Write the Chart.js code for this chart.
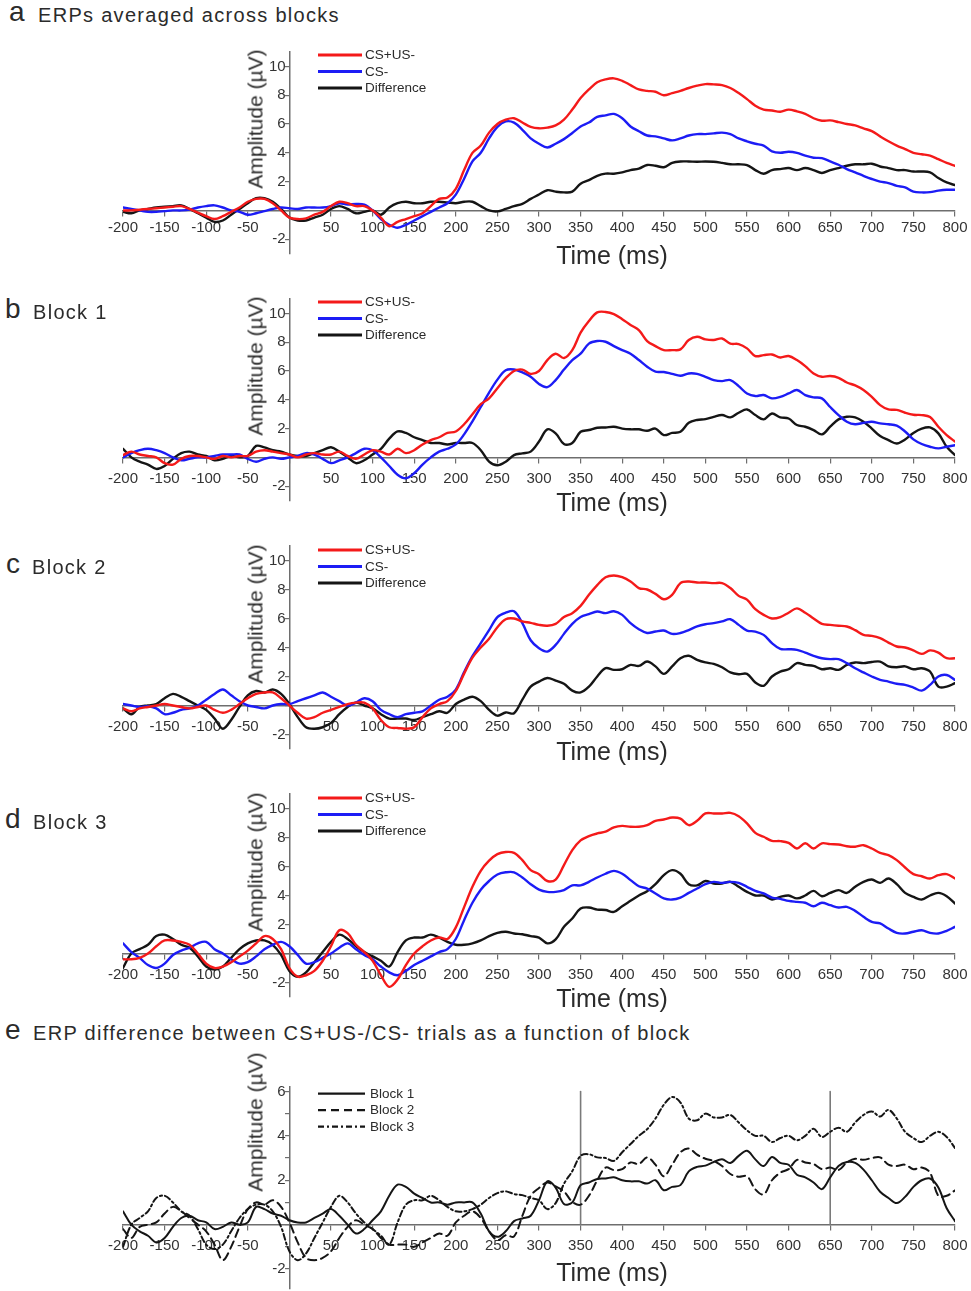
<!DOCTYPE html>
<html>
<head>
<meta charset="utf-8">
<script src="https://cdn.jsdelivr.net/npm/chart.js@4.4.1/dist/chart.umd.min.js"></script>
<style>
  html, body { margin: 0; padding: 0; background: #fff; }
  body { width: 971px; height: 1291px; position: relative; overflow: hidden;
         font-family: "Liberation Sans", Arial, sans-serif; color: #2b2b2b; }
  canvas { position: absolute; }
  .lt { position: absolute; font-size: 28px; line-height: 1; }
  .ttl { position: absolute; font-size: 20px; line-height: 1; letter-spacing: 1.3px; white-space: nowrap; }
  .ylab { position: absolute; font-size: 21px; line-height: 1; white-space: nowrap;
          transform: translate(-50%, -50%) rotate(-90deg); }
  .xlab { position: absolute; font-size: 25px; line-height: 1; white-space: nowrap;
          transform: translate(-50%, -50%); }
</style>
</head>
<body>
<script>
// time points (ms), one sample every 10 ms
const times = [
  -200, -190, -180, -170, -160, -150, -140, -130, -120, -110,
  -100, -90, -80, -70, -60, -50, -40, -30, -20, -10,
  0, 10, 20, 30, 40, 50, 60, 70, 80, 90,
  100, 110, 120, 130, 140, 150, 160, 170, 180, 190,
  200, 210, 220, 230, 240, 250, 260, 270, 280, 290,
  300, 310, 320, 330, 340, 350, 360, 370, 380, 390,
  400, 410, 420, 430, 440, 450, 460, 470, 480, 490,
  500, 510, 520, 530, 540, 550, 560, 570, 580, 590,
  600, 610, 620, 630, 640, 650, 660, 670, 680, 690,
  700, 710, 720, 730, 740, 750, 760, 770, 780, 790,
  800
];

// a: averaged across blocks
const aCSplus = [
  0.0, 0.0, 0.05, 0.1, 0.15, 0.2, 0.25, 0.3, 0.1, -0.15,
  -0.4, -0.6, -0.4, -0.1, 0.2, 0.6, 0.8, 0.8, 0.5, 0.0,
  -0.5, -0.6, -0.55, -0.3, -0.1, 0.3, 0.6, 0.5, 0.3, 0.3,
  0.0, -0.5, -1.1, -0.8, -0.6, -0.4, -0.2, 0.3, 0.8, 0.9,
  1.5, 2.8, 4.0, 4.5, 5.4, 6.0, 6.3, 6.4, 6.1, 5.8,
  5.7, 5.75, 5.9, 6.3, 7.0, 7.8, 8.4, 8.9, 9.1, 9.17,
  9.0, 8.7, 8.4, 8.3, 8.24, 8.0, 8.15, 8.3, 8.5, 8.66,
  8.77, 8.75, 8.7, 8.5, 8.15, 7.73, 7.27, 7.0, 6.94, 6.85,
  7.0, 6.88, 6.7, 6.4, 6.23, 6.25, 6.13, 6.0, 5.9, 5.7,
  5.5, 5.14, 4.8, 4.5, 4.26, 4.0, 3.9, 3.8, 3.56, 3.3,
  3.1
];
const aCSminus = [
  0.2, 0.1, 0.0, -0.1, -0.1, -0.05, 0.0, 0.0, 0.05, 0.2,
  0.3, 0.35, 0.2, 0.0, -0.1, -0.3, -0.2, -0.05, 0.1, 0.2,
  0.15, 0.1, 0.2, 0.2, 0.2, 0.3, 0.5, 0.4, 0.45, 0.4,
  0.0, -0.6, -1.0, -1.2, -1.0, -0.7, -0.4, -0.1, 0.2, 0.5,
  1.1, 2.2, 3.4, 4.0, 5.0, 5.8, 6.18, 6.1, 5.6, 5.0,
  4.63, 4.37, 4.63, 4.95, 5.37, 5.83, 6.1, 6.5, 6.6, 6.7,
  6.4, 5.83, 5.5, 5.2, 5.14, 5.0, 4.86, 5.0, 5.2, 5.3,
  5.3, 5.35, 5.4, 5.3, 5.0, 4.8, 4.63, 4.5, 4.1, 4.0,
  4.07, 4.0, 3.8, 3.66, 3.63, 3.4, 3.17, 2.87, 2.64, 2.4,
  2.18, 2.0, 1.9, 1.7, 1.6, 1.3, 1.25, 1.27, 1.37, 1.43,
  1.43
];
const aDiff = [
  -0.1, -0.2, 0.0, 0.1, 0.2, 0.25, 0.3, 0.35, 0.1, -0.2,
  -0.5, -0.8, -0.7, -0.3, 0.1, 0.5, 0.85, 0.85, 0.6, 0.1,
  -0.5, -0.7, -0.7, -0.5, -0.3, 0.1, 0.3, 0.1, -0.2, -0.1,
  0.0, -0.3, 0.2, 0.5, 0.6, 0.5, 0.5, 0.6, 0.6, 0.55,
  0.5, 0.6, 0.6, 0.3, 0.0, -0.07, 0.1, 0.3, 0.46, 0.8,
  1.1, 1.4, 1.3, 1.25, 1.3, 1.85, 2.1, 2.4, 2.55, 2.55,
  2.64, 2.8, 2.9, 3.15, 3.1, 3.0, 3.3, 3.4, 3.4, 3.38,
  3.4, 3.38, 3.3, 3.2, 3.2, 3.15, 2.8, 2.55, 2.8, 2.87,
  2.94, 2.8, 2.94, 2.8, 2.6, 2.8, 2.94, 3.1, 3.2, 3.2,
  3.24, 3.05, 2.94, 2.8, 2.8, 2.7, 2.7, 2.64, 2.25, 1.94,
  1.76
];

// b: block 1
const bCSplus = [
  0.16, 0.4, 0.2, 0.1, 0.0, -0.4, -0.5, -0.1, 0.1, 0.1,
  0.0, -0.1, 0.1, 0.0, 0.1, 0.1, 0.4, 0.5, 0.4, 0.3,
  0.2, 0.0, 0.2, 0.3, 0.2, 0.2, 0.4, 0.1, -0.1, 0.2,
  0.5, 0.4, 0.2, 0.6, 0.3, 0.5, 0.9, 1.2, 1.4, 1.7,
  1.8, 2.3, 3.0, 3.7, 4.1, 4.8, 5.5, 6.0, 6.1, 5.8,
  6.0, 6.76, 7.2, 6.9, 7.45, 8.66, 9.47, 10.07, 10.1, 9.95,
  9.6, 9.2, 8.84, 8.08, 7.73, 7.45, 7.45, 7.5, 8.15, 8.38,
  8.2, 8.15, 8.26, 7.9, 7.87, 7.57, 7.04, 7.1, 7.15, 6.94,
  7.04, 6.76, 6.34, 5.83, 5.6, 5.65, 5.53, 5.2, 5.0, 4.68,
  4.2, 3.63, 3.33, 3.3, 3.1, 2.96, 2.94, 2.8, 2.13, 1.55,
  1.1
];
const bCSminus = [
  0.0, 0.3, 0.5, 0.6, 0.5, 0.3, 0.0, -0.2, -0.1, 0.0,
  0.0, 0.1, 0.2, 0.2, 0.2, -0.1, -0.3, -0.1, 0.0, -0.1,
  0.0, 0.1, 0.3, 0.2, -0.1, -0.4, -0.2, 0.0, 0.3, 0.6,
  0.5, 0.0, -0.6, -1.2, -1.45, -1.1, -0.5, 0.0, 0.4, 0.6,
  0.9, 1.6, 2.5, 3.5, 4.5, 5.4, 6.05, 6.1, 5.9, 5.6,
  5.1, 4.88, 5.37, 6.1, 6.76, 7.2, 7.9, 8.08, 8.03, 7.73,
  7.45, 7.2, 6.76, 6.3, 5.95, 5.93, 5.8, 5.67, 5.83, 5.8,
  5.6, 5.37, 5.3, 5.37, 4.95, 4.44, 4.26, 4.33, 4.1, 4.2,
  4.44, 4.68, 4.33, 4.17, 4.1, 3.5, 2.94, 2.48, 2.3, 2.4,
  2.48, 2.36, 2.3, 2.2, 1.8, 1.25, 0.93, 0.74, 0.63, 0.74,
  0.85
];
const bDiff = [
  0.6, 0.0, -0.3, -0.5, -0.8, -0.6, -0.1, 0.3, 0.4, 0.2,
  0.1, -0.2, -0.1, 0.1, 0.0, 0.1, 0.8, 0.7, 0.5, 0.4,
  0.2, 0.1, 0.1, 0.3, 0.5, 0.7, 0.4, 0.0, -0.4, -0.2,
  0.2, 0.6, 1.3, 1.8, 1.7, 1.4, 1.2, 1.0, 1.0, 0.9,
  1.0, 1.0, 1.0, 0.5, -0.3, -0.55, -0.3, 0.16, 0.28, 0.4,
  1.1, 1.95, 1.67, 0.93, 1.0, 1.78, 1.9, 2.06, 2.08, 2.13,
  2.0, 1.95, 1.95, 1.85, 2.0, 1.55, 1.7, 1.78, 2.4, 2.6,
  2.66, 2.82, 2.94, 2.78, 3.1, 3.33, 2.94, 2.64, 3.05, 2.78,
  2.7, 2.25, 2.13, 1.9, 1.6, 2.13, 2.64, 2.82, 2.78, 2.48,
  2.0, 1.48, 1.2, 0.97, 1.25, 1.7, 2.0, 2.08, 1.67, 0.74,
  0.16
];

// c: block 2
const cCSplus = [
  -0.2, -0.4, -0.2, -0.1, 0.0, 0.1, 0.0, -0.1, -0.2, -0.1,
  0.0, -0.3, -0.5, -0.3, 0.1, 0.5, 0.8, 0.9, 0.9, 0.5,
  0.0, -0.5, -0.9, -0.8, -0.5, -0.3, -0.1, 0.1, 0.2, 0.2,
  -0.2, -1.0, -1.5, -1.55, -1.6, -1.5, -0.8, -0.2, 0.1, 0.3,
  1.0, 2.2, 3.3, 4.0, 4.6, 5.4, 5.95, 6.0, 5.8, 5.7,
  5.56, 5.5, 5.63, 6.1, 6.37, 6.87, 7.63, 8.3, 8.85, 8.97,
  8.85, 8.55, 8.1, 8.0, 7.7, 7.33, 7.63, 8.44, 8.55, 8.48,
  8.48, 8.44, 8.44, 8.1, 7.56, 7.3, 6.64, 6.25, 6.0, 6.1,
  6.4, 6.7, 6.4, 6.0, 5.63, 5.56, 5.5, 5.45, 5.2, 4.87,
  4.8, 4.64, 4.34, 4.07, 4.0, 3.8, 3.56, 3.8, 3.65, 3.26,
  3.26
];
const cCSminus = [
  0.1, 0.0, -0.1, -0.05, -0.2, -0.6, -0.5, -0.3, -0.2, 0.0,
  0.4, 0.8, 1.1, 0.7, 0.3, 0.0, -0.1, -0.2, 0.0, 0.1,
  0.1, 0.3, 0.5, 0.7, 0.9, 0.6, 0.3, 0.0, 0.2, 0.5,
  0.3, -0.3, -0.6, -0.8, -0.6, -0.5, -0.4, 0.0, 0.4, 0.6,
  1.1, 2.3, 3.4, 4.3, 5.2, 6.1, 6.4, 6.5, 5.68, 4.5,
  3.95, 3.72, 4.18, 4.94, 5.63, 6.1, 6.3, 6.48, 6.37, 6.5,
  6.25, 5.68, 5.26, 5.0, 5.1, 5.17, 4.94, 5.0, 5.2, 5.45,
  5.6, 5.68, 5.8, 5.95, 5.56, 5.17, 5.1, 4.87, 4.3, 3.9,
  3.88, 3.84, 3.65, 3.43, 3.26, 3.2, 3.2, 2.92, 2.57, 2.28,
  2.0, 1.77, 1.65, 1.5, 1.42, 1.24, 1.03, 1.42, 2.0, 2.1,
  1.77
];
const cDiff = [
  -0.2, -0.6, -0.1, 0.0, 0.1, 0.5, 0.8, 0.6, 0.3, 0.0,
  -0.3, -0.9, -1.6, -1.0, -0.1, 0.7, 1.0, 0.9, 1.1, 0.8,
  0.1, -0.8, -1.5, -1.6, -1.5, -1.2, -0.6, -0.1, 0.2, 0.0,
  -0.2, -0.6, -0.9, -0.9, -0.9, -1.0, -0.8, -0.6, -0.4, -0.5,
  0.1, 0.4, 0.6, 0.3, -0.3, -0.7, -0.48, -0.53, 0.4, 1.3,
  1.65, 1.9, 1.72, 1.5, 1.03, 0.9, 1.3, 2.0, 2.57, 2.46,
  2.5, 2.8, 2.73, 3.03, 2.7, 2.18, 2.7, 3.26, 3.43, 3.15,
  2.97, 2.87, 2.64, 2.28, 2.16, 2.18, 1.59, 1.36, 2.0, 2.34,
  2.5, 2.92, 2.8, 2.73, 2.5, 2.57, 2.46, 2.8, 2.97, 2.92,
  3.0, 3.03, 2.7, 2.64, 2.7, 2.5, 2.57, 2.34, 1.3, 1.3,
  1.54
];

// d: block 3
const dCSplus = [
  -0.4, -0.4, -0.3, 0.0, 0.5, 0.9, 0.9, 0.8, 0.6, 0.0,
  -0.7, -1.0, -0.9, -0.6, -0.2, 0.2, 0.7, 1.2, 1.0, 0.3,
  -1.0, -1.6, -1.5, -1.2, -0.5, 0.5, 1.6, 1.4, 0.6, 0.1,
  -0.5, -1.5, -2.3, -1.8, -0.8, 0.0, 0.5, 0.9, 1.1, 1.0,
  1.8, 3.2, 4.6, 5.7, 6.4, 6.85, 7.0, 6.94, 6.44, 5.75,
  5.47, 5.0, 5.1, 6.1, 7.13, 7.8, 8.1, 8.28, 8.4, 8.7,
  8.8, 8.74, 8.74, 8.85, 9.15, 9.24, 9.38, 9.3, 8.85, 9.15,
  9.66, 9.66, 9.66, 9.7, 9.47, 8.97, 8.32, 8.05, 7.77, 7.75,
  7.63, 7.24, 7.6, 7.24, 7.6, 7.54, 7.52, 7.4, 7.36, 7.47,
  7.24, 6.94, 6.78, 6.44, 5.93, 5.47, 5.33, 5.17, 5.4, 5.47,
  5.17
];
const dCSminus = [
  0.7, 0.1, -0.3, -0.8, -1.0, -0.7, -0.1, 0.2, 0.4, 0.7,
  0.8, 0.3, 0.0, -0.4, -0.7, -0.6, -0.2, 0.3, 0.6, 0.8,
  0.5, -0.1, -0.7, -0.6, -0.3, 0.0, 0.4, 0.7, 0.3, -0.1,
  -0.4, -0.9, -1.3, -1.5, -1.2, -0.8, -0.5, -0.2, 0.1, 0.3,
  1.0, 2.3, 3.5, 4.4, 5.0, 5.45, 5.6, 5.6, 5.24, 4.78,
  4.41, 4.25, 4.25, 4.37, 4.7, 4.7, 4.94, 5.24, 5.5, 5.7,
  5.5, 5.06, 4.64, 4.48, 4.14, 3.8, 3.72, 3.86, 4.18, 4.48,
  4.78, 4.94, 4.87, 4.94, 4.87, 4.6, 4.32, 4.14, 3.86, 3.77,
  3.63, 3.56, 3.5, 3.26, 3.5, 3.33, 3.17, 3.22, 2.94, 2.53,
  2.18, 2.07, 1.72, 1.42, 1.38, 1.5, 1.6, 1.42, 1.38, 1.56,
  1.84
];
const dDiff = [
  -1.0, 0.0, 0.3, 0.6, 1.2, 1.3, 1.0, 0.6, 0.4, -0.2,
  -0.9, -1.1, -0.9, -0.3, 0.3, 0.7, 0.9, 0.9, 0.6, -0.1,
  -1.2, -1.6, -1.3, -0.6, 0.1, 0.8, 1.3, 1.0, 0.5, 0.1,
  -0.2, -0.5, -0.9, 0.1, 0.9, 1.1, 1.1, 1.3, 1.1, 0.8,
  0.6, 0.6, 0.7, 0.9, 1.2, 1.42, 1.5, 1.38, 1.33, 1.2,
  1.1, 0.7, 0.97, 1.84, 2.41, 3.1, 3.17, 3.03, 3.0, 2.87,
  3.26, 3.63, 4.0, 4.3, 4.78, 5.4, 5.75, 5.5, 4.78, 4.7,
  5.0, 4.83, 4.83, 4.94, 4.6, 4.25, 4.0, 4.0, 3.72, 3.9,
  4.0, 3.8, 4.0, 4.32, 3.95, 4.18, 4.37, 4.18, 4.6, 4.94,
  5.1, 4.87, 5.17, 4.78, 4.18, 3.9, 3.72, 4.0, 4.18, 3.95,
  3.45
];

// e: the difference waves of the three blocks, plus the window markers
const blockNames = ['Block 1', 'Block 2', 'Block 3'];
const blockDiffs = [bDiff, cDiff, dDiff];
const markerTimes = [350, 650];
const markerTop = 6;

const condNames = ['CS+US-', 'CS-', 'Difference'];

// y tick positions (labels only on the even, non-zero ones)
const yTicksCond = [-2, -1, 0, 1, 2, 3, 4, 5, 6, 7, 8, 9, 10];
const yTicksBlock = [-2, -1, 0, 1, 2, 3, 4, 5, 6];

const RED = '#f41a1a', BLUE = '#1c1cf5', BLACK = '#151515';
const AXIS = '#6e6e6e';
const TICK_FONT = { family: '"Liberation Sans", Arial', size: 15 };

// draws the line key at a fixed spot inside the plot
const lineKey = {
  id: 'lineKey',
  afterDatasetsDraw(chart, args, o) {
    if (!o || !o.rows) return;
    const ctx = chart.ctx;
    const left = chart.chartArea.left;
    const zero = chart.scales.y.getPixelForValue(0);
    ctx.save();
    let k = 0;
    chart.data.datasets.forEach(ds => {
      if (!ds.label) return;
      const y = zero + o.top + k * o.rowH;
      ctx.beginPath();
      ctx.setLineDash(ds.borderDash || []);
      ctx.strokeStyle = ds.borderColor;
      ctx.lineWidth = o.lineW;
      ctx.moveTo(left + o.x0, y);
      ctx.lineTo(left + o.x1, y);
      ctx.stroke();
      ctx.setLineDash([]);
      ctx.fillStyle = '#2b2b2b';
      ctx.font = o.font;
      ctx.textBaseline = 'middle';
      ctx.fillText(ds.label, left + o.tx, y + 0.5);
      k++;
    });
    ctx.restore();
  }
};

const X_LEFT = 123, X_WIDTH = 832;
// side padding has to cover half an end label plus the tick padding
const PAD_L = 36, PAD_R = 36, PAD_T = 14, PAD_B = 14;

function addText(cls, text, left, top) {
  const d = document.createElement('div');
  d.className = cls;
  d.textContent = text;
  d.style.left = left + 'px';
  d.style.top = top + 'px';
  document.body.appendChild(d);
}

function makePanel(p) {
  const areaTop = p.zeroY - p.ymax * p.ppu;
  const areaH = (p.ymax - p.ymin) * p.ppu;
  const cv = document.createElement('canvas');
  const w = X_WIDTH + PAD_L + PAD_R;
  const h = Math.round(areaH + PAD_T + PAD_B);
  cv.width = w; cv.height = h;
  cv.style.left = (X_LEFT - PAD_L) + 'px';
  cv.style.top = (areaTop - PAD_T) + 'px';
  cv.style.width = w + 'px'; cv.style.height = h + 'px';
  document.body.appendChild(cv);

  new Chart(cv, {
    type: 'line',
    data: { labels: times, datasets: p.datasets },
    options: {
      responsive: false,
      animation: false,
      devicePixelRatio: 1,
      layout: { padding: { left: PAD_L, right: PAD_R, top: PAD_T, bottom: h - PAD_T - areaH } },
      elements: { point: { radius: 0 }, line: { tension: 0.35, borderCapStyle: 'round', borderJoinStyle: 'round' } },
      plugins: { legend: { display: false }, tooltip: { enabled: false }, lineKey: p.key },
      scales: {
        x: {
          type: 'linear', min: -200, max: 800, position: { y: 0 },
          ticks: { stepSize: 50, autoSkip: false, maxRotation: 0, padding: p.xPad, color: '#333', font: TICK_FONT,
                   callback: v => (v === 0 ? '' : v) },
          grid: { drawOnChartArea: false, drawTicks: true, tickLength: 5, color: AXIS, lineWidth: 1.2 },
          border: { display: true, color: AXIS, width: 1.5 }
        },
        y: {
          type: 'linear', min: p.ymin, max: p.ymax, position: { x: 0 },
          afterBuildTicks: s => { s.ticks = p.yTicks.map(v => ({ value: v })); },
          ticks: { color: '#333', font: TICK_FONT,
                   callback: v => (v === 0 || v % 2 !== 0 ? '' : v + '\u2005') },
          grid: { drawOnChartArea: false, drawTicks: true, tickLength: 4, color: AXIS, lineWidth: 1.2 },
          border: { display: true, color: AXIS, width: 1.5 }
        }
      }
    },
    plugins: [lineKey]
  });

  const zeroY = p.zeroY;
  addText('lt', p.letter, p.letterX, p.titleBase - 24);
  addText('ttl', p.title, p.titleX, p.titleBase - 17);
  addText('ylab', 'Amplitude (\u00b5V)', 255, zeroY + p.ylabDy);
  addText('xlab', 'Time (ms)', 612, zeroY + p.xlabDy);
}

function condSets(plus, minus, diff) {
  const vals = [plus, minus, diff];
  const cols = [RED, BLUE, BLACK];
  return vals.map((v, i) => ({
    label: condNames[i], data: v, borderColor: cols[i], borderWidth: 2.4, fill: false
  }));
}

const condKey = { rows: true, x0: 195, x1: 239, tx: 242, top: -155.5, rowH: 16.5, lineW: 3,
                  font: '13.5px "Liberation Sans", Arial' };

const panels = [
  { letter: 'a', title: 'ERPs averaged across blocks', letterX: 9, titleX: 38, titleBase: 22,
    zeroY: 210.5, ppu: 14.4, ymin: -3, ymax: 11, yTicks: yTicksCond, xPad: 3, ylabDy: -91.5, xlabDy: 44,
    datasets: condSets(aCSplus, aCSminus, aDiff), key: condKey },
  { letter: 'b', title: 'Block 1', letterX: 5, titleX: 33, titleBase: 319,
    zeroY: 457.3, ppu: 14.4, ymin: -3, ymax: 11, yTicks: yTicksCond, xPad: 7, ylabDy: -91.5, xlabDy: 45,
    datasets: condSets(bCSplus, bCSminus, bDiff), key: condKey },
  { letter: 'c', title: 'Block 2', letterX: 6, titleX: 32, titleBase: 574,
    zeroY: 705.7, ppu: 14.5, ymin: -3, ymax: 11, yTicks: yTicksCond, xPad: 7, ylabDy: -91.5, xlabDy: 45,
    datasets: condSets(cCSplus, cCSminus, cDiff), key: condKey },
  { letter: 'd', title: 'Block 3', letterX: 5, titleX: 33, titleBase: 829,
    zeroY: 953.3, ppu: 14.5, ymin: -3, ymax: 11, yTicks: yTicksCond, xPad: 7, ylabDy: -91.5, xlabDy: 45,
    datasets: condSets(dCSplus, dCSminus, dDiff), key: condKey }
];

const blockDash = [[], [8, 5], [6, 3, 2, 3]];
const eSets = blockDiffs.map((v, i) => ({
  label: blockNames[i], data: v, borderColor: BLACK, borderWidth: 2, borderDash: blockDash[i], fill: false
}));
markerTimes.forEach(t => {
  eSets.push({ label: '', data: [{ x: t, y: 0 }, { x: t, y: markerTop }],
               borderColor: '#7a7a7a', borderWidth: 1.6, tension: 0 });
});

panels.push({ letter: 'e', title: 'ERP difference between CS+US-/CS- trials as a function of block',
  letterX: 5, titleX: 33, titleBase: 1040,
  zeroY: 1225, ppu: 22.2, ymin: -2.9, ymax: 6.2, yTicks: yTicksBlock, xPad: 7, ylabDy: -103, xlabDy: 47,
  datasets: eSets,
  key: { rows: true, x0: 195, x1: 242, tx: 247, top: -131, rowH: 16.5, lineW: 2.2,
         font: '13.5px "Liberation Sans", Arial' } });

panels.forEach(makePanel);
</script>
</body>
</html>
